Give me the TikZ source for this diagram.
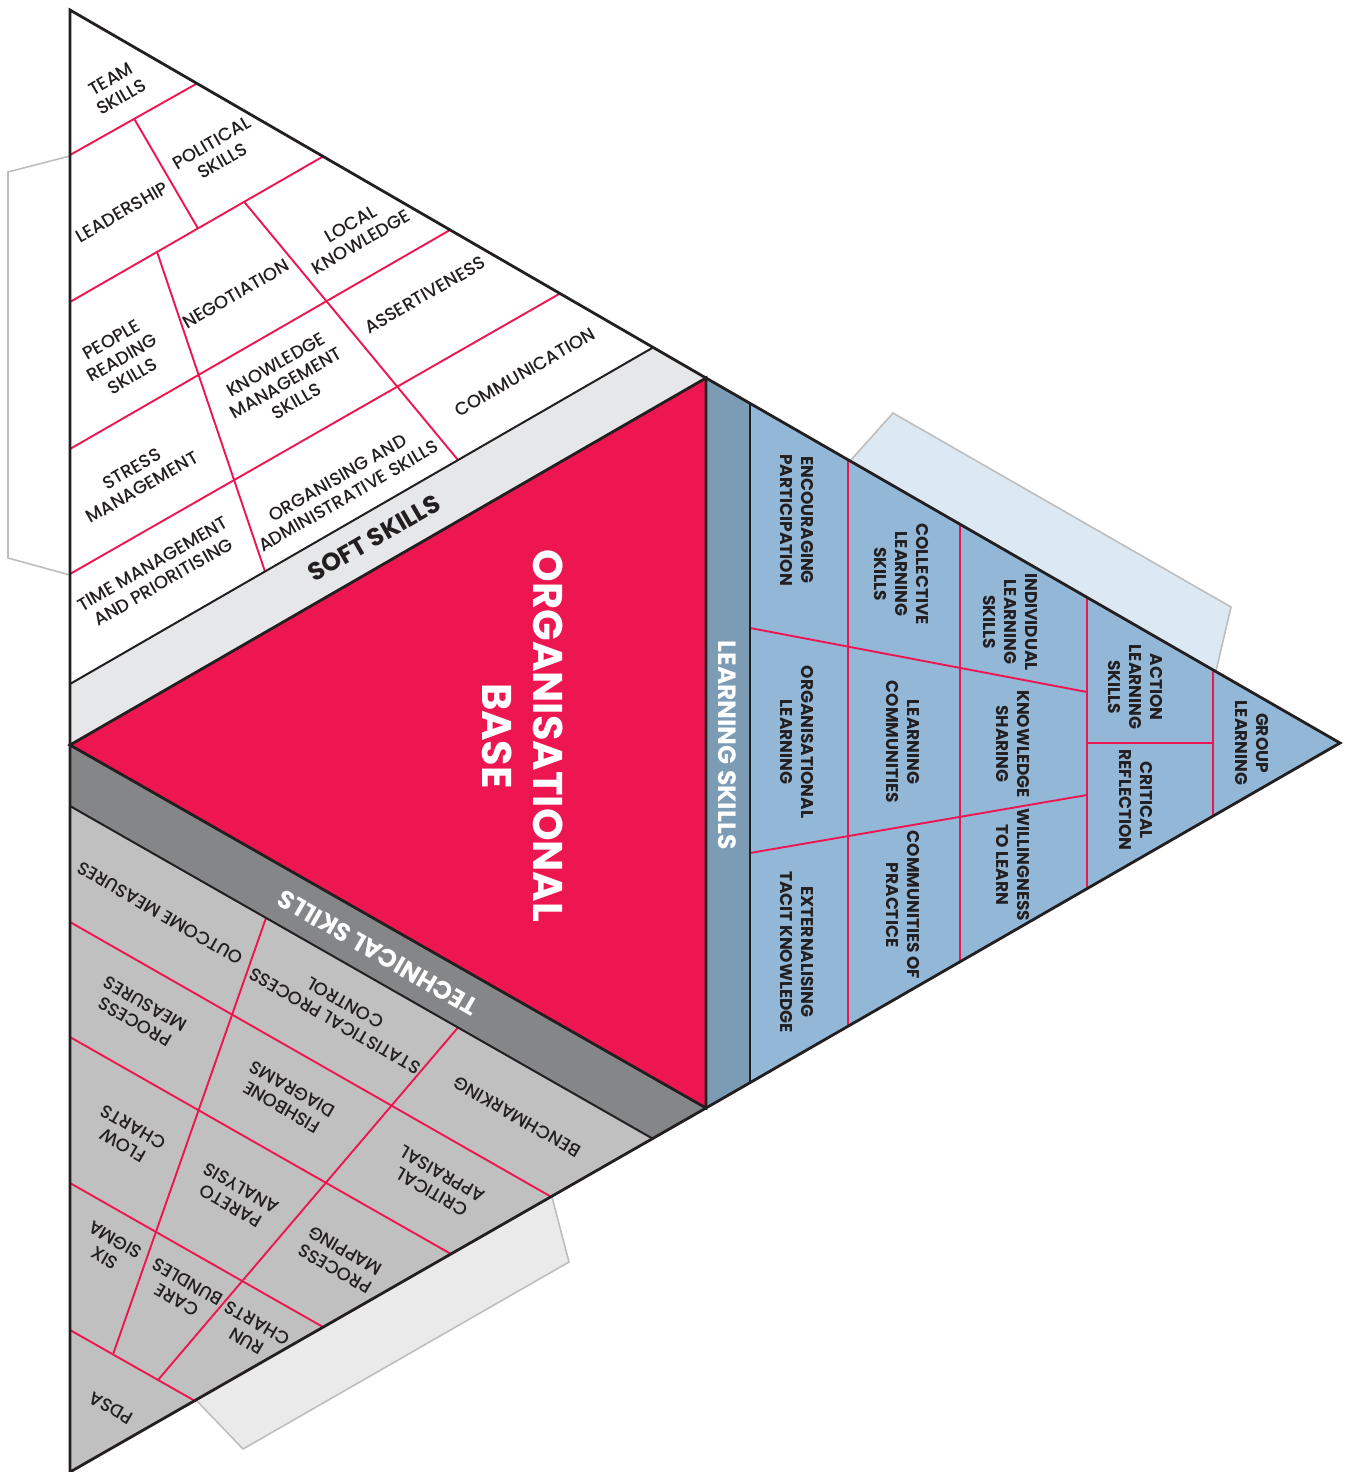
\documentclass[tikz,border=0pt]{standalone}
\usepackage{fontspec}
\setmainfont{Poppins}
\IfFontExistsTF{Poppins Medium}{\newfontfamily\medfont{Poppins Medium}}{%
  \IfFontExistsTF{Poppins SemiBold}{\newfontfamily\medfont{Poppins SemiBold}}{\newfontfamily\medfont{Poppins}}}
\definecolor{obred}{HTML}{ED1651}
\definecolor{softstrip}{HTML}{E6E7E8}
\definecolor{bluecell}{HTML}{93B7D6}
\definecolor{bluestrip}{HTML}{7C9CB6}
\definecolor{graycell}{HTML}{C0C0C0}
\definecolor{graystrip}{HTML}{858688}
\definecolor{tabblue}{HTML}{DCE8F2}
\definecolor{tabgray}{HTML}{EAEAEA}
\definecolor{tabline}{HTML}{BEBEBE}
\definecolor{ink}{HTML}{231F20}
\tikzset{
  cellw/.style={text=ink, font=\medfont\fontsize{18}{21}\selectfont, align=center, rotate=30, inner sep=0pt},
  cellb/.style={text=ink, font=\bfseries\fontsize{17}{21}\selectfont, align=center, rotate=-90, inner sep=0pt},
  cellg/.style={text=ink, font=\medfont\fontsize{18}{21}\selectfont, align=center, rotate=150, inner sep=0pt},
  stripw/.style={font=\bfseries\fontsize{25}{28}\selectfont, inner sep=0pt},
  pinkline/.style={draw=obred, line width=1.9pt},
  outline/.style={draw=ink, line width=2.8pt, line join=miter},
  inline/.style={draw=ink, line width=2pt},
  tab/.style={draw=tabline, line width=1.6pt, line join=miter},
}
\begin{document}
\begin{tikzpicture}[x=1pt,y=-1pt]
\useasboundingbox (0,0) rectangle (1350,1472);
% main vertices
\coordinate (A) at (70,10);
\coordinate (P) at (706,378);
\coordinate (B) at (1340,743);
\coordinate (R) at (706,1108);
\coordinate (C) at (70,1472);
\coordinate (Q) at (70,745);
% strip corners
\coordinate (s1) at (70,684);
\coordinate (s2) at (653,347.5);
\coordinate (b1) at (750,403.3);
\coordinate (b2) at (750,1082.7);
\coordinate (g1) at (70,806);
\coordinate (g2) at (652.6,1138.6);
% glue tabs
\draw[tab, fill=white] (70,156) -- (8,172) -- (8,558) -- (70,575);
\draw[tab, fill=tabblue] (850,461) -- (893,413) -- (1231,607) -- (1216,671);
\draw[tab, fill=tabgray] (552,1197) -- (569,1262) -- (243,1449) -- (197,1401);
% faces
\fill[white] (A) -- (P) -- (Q) -- cycle;
\fill[softstrip] (Q) -- (s1) -- (s2) -- (P) -- cycle;
\fill[bluecell] (P) -- (B) -- (R) -- cycle;
\fill[bluestrip] (P) -- (b1) -- (b2) -- (R) -- cycle;
\fill[graycell] (Q) -- (R) -- (C) -- cycle;
\fill[graystrip] (Q) -- (R) -- (g2) -- (g1) -- cycle;
\fill[obred] (Q) -- (P) -- (R) -- cycle;
% soft skills grid
\draw[pinkline] (70,155) -- (197,83.5);
\draw[pinkline] (70,302) -- (323,156.5);
\draw[pinkline] (70,449) -- (450,230);
\draw[pinkline] (70,574) -- (560,293.5);
\draw[pinkline] (134,118.5) -- (198,228.5);
\draw[pinkline] (244,201.6) -- (458,460);
\draw[pinkline] (157,251.8) -- (265,571.5);
% learning skills grid
\draw[pinkline] (848,459.7) -- (848,1026.3);
\draw[pinkline] (960,524.2) -- (960,961.8);
\draw[pinkline] (1087,597.3) -- (1087,888.7);
\draw[pinkline] (1213,669.9) -- (1213,816.1);
\draw[pinkline] (750,628) -- (1087,692);
\draw[pinkline] (750,853) -- (1087,795);
\draw[pinkline] (1087,743) -- (1213,743);
% technical skills grid
\draw[pinkline] (70,922) -- (551,1196.7);
\draw[pinkline] (70,1037) -- (451,1254);
\draw[pinkline] (70,1183) -- (323,1327);
\draw[pinkline] (70,1330) -- (196,1401.5);
\draw[pinkline] (266,917.9) -- (113,1354.4);
\draw[pinkline] (458,1027.5) -- (158,1380);
% outlines
\draw[inline] (s1) -- (s2);
\draw[inline] (b1) -- (b2);
\draw[inline] (g1) -- (g2);
\draw[outline] (Q) -- (P) -- (R) -- cycle;
\draw[outline] (A) -- (P) -- (B) -- (R) -- (C) -- cycle;
% soft skills texts
\node[cellw] (tm) at (116,88) {TEAM\\SKILLS};
\node[cellw] (ps) at (217,152) {POLITICAL\\SKILLS};
\node[cellw] (ld) at (122,212) {LEADERSHIP};
\node[cellw] (lk) at (356,233) {LOCAL\\KNOWLEDGE};
\node[cellw] (ng) at (236,294) {NEGOTIATION};
\node[cellw] (pr) at (122,358) {PEOPLE\\READING\\SKILLS};
\node[cellw] (as) at (425,295) {ASSERTIVENESS};
\node[cellw] (km) at (286,383) {KNOWLEDGE\\MANAGEMENT\\SKILLS};
\node[cellw] (cm) at (525,372) {COMMUNICATION};
\node[cellw] (sm) at (137,478) {STRESS\\MANAGEMENT};
\node[cellw] (oa) at (343,487) {ORGANISING AND\\ADMINISTRATIVE SKILLS};
\node[cellw] (tp) at (158,573) {TIME MANAGEMENT\\AND PRIORITISING};
\node[stripw, text=ink, rotate=30] (soft) at (374,538) {SOFT SKILLS};
% learning skills texts
\node[cellb] (ep) at (797,520) {ENCOURAGING\\PARTICIPATION};
\node[cellb] (cl) at (901,574) {COLLECTIVE\\LEARNING\\SKILLS};
\node[cellb] (il) at (1010,622) {INDIVIDUAL\\LEARNING\\SKILLS};
\node[cellb] (al) at (1135,687) {ACTION\\LEARNING\\SKILLS};
\node[cellb] (ol) at (797,742) {ORGANISATIONAL\\LEARNING};
\node[cellb] (lc) at (903,742) {LEARNING\\COMMUNITIES};
\node[cellb] (ks) at (1013,744) {KNOWLEDGE\\SHARING};
\node[cellb] (wl) at (1013,865) {WILLINGNESS\\TO LEARN};
\node[cellb] (cp) at (903,905) {COMMUNITIES OF\\PRACTICE};
\node[cellb] (et) at (797,952) {EXTERNALISING\\TACIT KNOWLEDGE};
\node[cellb] (cr) at (1136,800) {CRITICAL\\REFLECTION};
\node[cellb] (gl) at (1252,743) {GROUP\\LEARNING};
\node[stripw, text=white, rotate=-90] (ls) at (727,745) {LEARNING SKILLS};
% technical skills texts
\node[cellg] (om) at (160,913) {OUTCOME MEASURES};
\node[cellg] (spc) at (340,1012) {STATISTICAL PROCESS\\CONTROL};
\node[cellg] (bm) at (517,1117) {BENCHMARKING};
\node[cellg] (pm) at (140,1013) {PROCESS\\MEASURES};
\node[cellg] (fd) at (287,1098) {FISHBONE\\DIAGRAMS};
\node[cellg] (ca) at (437,1183) {CRITICAL\\APPRAISAL};
\node[cellg] (fc) at (128,1136) {FLOW\\CHARTS};
\node[cellg] (pa) at (236,1197) {PARETO\\ANALYSIS};
\node[cellg] (pmap) at (340,1260) {PROCESS\\MAPPING};
\node[cellg] (ss) at (110,1249) {SIX\\SIGMA};
\node[cellg] (cb) at (182,1291) {CARE\\BUNDLES};
\node[cellg] (rc) at (252,1332) {RUN\\CHARTS};
\node[cellg] (pdsa) at (111,1408) {PDSA};
\node[stripw, text=white, rotate=150] (tech) at (378,953) {TECHNICAL SKILLS};
% centre
\node[text=white, font=\bfseries\fontsize{41.5}{51}\selectfont, align=center, rotate=-90, inner sep=0pt] (base) at (523,736) {ORGANISATIONAL\\BASE};
\end{tikzpicture}
\end{document}
